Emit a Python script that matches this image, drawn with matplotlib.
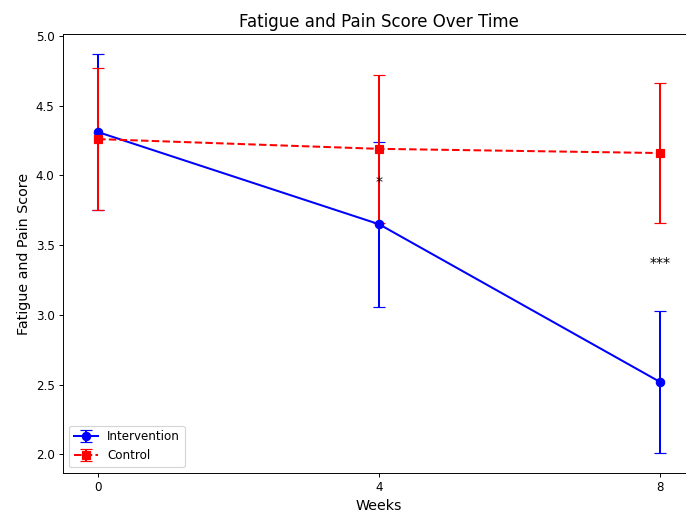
import matplotlib
matplotlib.use("Agg")
import matplotlib.pyplot as plt

weeks = [0, 4, 8]
intervention_mean = [4.31, 3.65, 2.52]
intervention_err = [0.56, 0.59, 0.51]
control_mean = [4.26, 4.19, 4.16]
control_err = [0.51, 0.53, 0.50]
sig_labels = {4: "*", 8: "***"}

W, H = 686, 516
dpi = 85.75
fig = plt.figure(figsize=(W / dpi, H / dpi), dpi=dpi)
left, right, bottom, top = 63, 695, 473, 34
ax = fig.add_axes([left / W, 1 - bottom / H, (right - left) / W, (bottom - top) / H])

ax.errorbar(weeks, intervention_mean, yerr=intervention_err, fmt='-o', color='blue',
            capsize=5, linewidth=1.7, markersize=7, label='Intervention')
ax.errorbar(weeks, control_mean, yerr=control_err, fmt='--s', color='red',
            capsize=5, linewidth=1.7, markersize=7, label='Control')

for i, w in enumerate(weeks):
    if w in sig_labels:
        y = (intervention_mean[i] + control_mean[i]) / 2 + 0.03
        ax.text(w, y, sig_labels[w], ha='center', va='center', fontsize=12,
                color='black', zorder=5)

ax.set_xticks(weeks)
ax.set_xlim(-0.5, 8.5)
ax.set_title("Fatigue and Pain Score Over Time", fontsize=14)
ax.set_xlabel("Weeks", fontsize=12)
ax.set_ylabel("Fatigue and Pain Score", fontsize=12)
ax.legend(loc='lower left')

fig.savefig("out.png", dpi=dpi)
